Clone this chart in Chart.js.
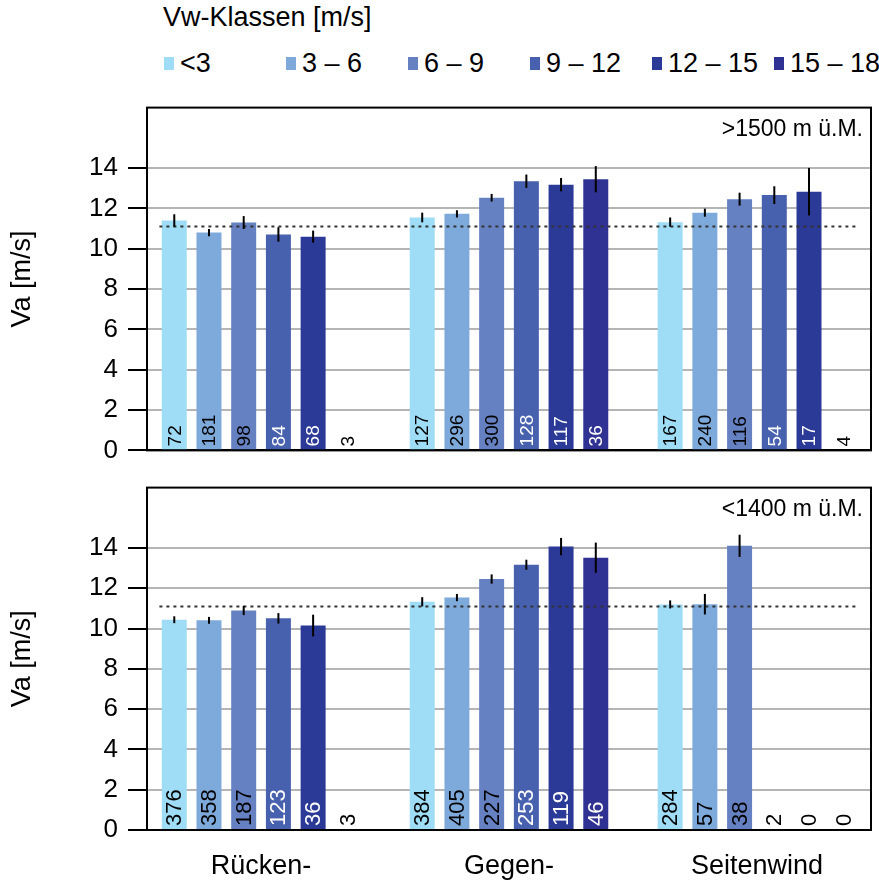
<!DOCTYPE html>
<html>
<head>
<meta charset="utf-8">
<script src="https://cdn.jsdelivr.net/npm/chart.js@4.4.1/dist/chart.umd.min.js"></script>
<style>
  html, body { margin: 0; padding: 0; background: #fff; }
  body { width: 879px; height: 883px; position: relative; overflow: hidden; font-family: "Liberation Sans", Arial, sans-serif; color: #000; }
  #legend { position: absolute; left: 0; top: 0; width: 879px; height: 80px; }
  #legend .title { position: absolute; left: 163px; top: 2px; font-size: 27px; }
  #legend .row { position: absolute; left: 164px; top: 48px; display: flex; }
  #legend .item { width: 122px; display: flex; align-items: center; font-size: 27px; white-space: nowrap; }
  #legend .box { width: 10px; height: 13px; margin-right: 6px; }
  #topWrap { position: absolute; left: 0; top: 82px; }
  #bottomWrap { position: absolute; left: 0; top: 462px; }
</style>
</head>
<body>
<div id="legend">
  <div class="title">Vw-Klassen [m/s]</div>
  <div class="row" id="legendRow"></div>
</div>
<div id="topWrap"><canvas id="topChart" width="879" height="394"></canvas></div>
<div id="bottomWrap"><canvas id="bottomChart" width="879" height="421"></canvas></div>

<script>
// wind direction groups and wind speed classes
const categories = ['Rücken-', 'Gegen-', 'Seitenwind'];
const speedClasses = ['<3', '3 – 6', '6 – 9', '9 – 12', '12 – 15', '15 – 18'];
const classColors = ['#9fdcf6', '#7eaadb', '#6581c2', '#4761ae', '#2b3a97', '#2f3292'];
const lightLabel = [true, true, true, false, false, false];

const yTicks = [0, 2, 4, 6, 8, 10, 12, 14];
const refSpeed = 11.1;

// >1500 m: mean Va per class (rows) and direction (columns)
const highMeans = [
    [11.40, 11.55, 11.32],
    [10.80, 11.73, 11.79],
    [11.30, 12.53, 12.46],
    [10.71, 13.35, 12.66],
    [10.60, 13.18, 12.83],
    [null, 13.45, null]
];
const highErrors = [
    [0.31, 0.24, 0.23],
    [0.18, 0.18, 0.20],
    [0.32, 0.19, 0.32],
    [0.36, 0.33, 0.44],
    [0.30, 0.33, 1.18],
    [null, 0.65, null]
];
const highCounts = [
    [72, 127, 167],
    [181, 296, 240],
    [98, 300, 116],
    [84, 128, 54],
    [68, 117, 17],
    [3, 36, 4]
];

// <1400 m
const lowMeans = [
    [10.44, 11.33, 11.20],
    [10.41, 11.54, 11.21],
    [10.90, 12.46, 14.11],
    [10.51, 13.17, null],
    [10.15, 14.07, null],
    [null, 13.52, null]
];
const lowErrors = [
    [0.17, 0.23, 0.20],
    [0.17, 0.18, 0.51],
    [0.23, 0.23, 0.55],
    [0.26, 0.25, null],
    [0.54, 0.43, null],
    [null, 0.75, null]
];
const lowCounts = [
    [376, 384, 284],
    [358, 405, 57],
    [187, 227, 38],
    [123, 253, 2],
    [36, 119, 0],
    [3, 46, 0]
];

const FONT = '"Liberation Sans", Arial, sans-serif';

// legend row
const legendRow = document.getElementById('legendRow');
speedClasses.forEach((name, i) => {
    const item = document.createElement('div');
    item.className = 'item';
    item.innerHTML = `<span class="box" style="background:${classColors[i]}"></span><span>${name}</span>`;
    legendRow.appendChild(item);
});

// frame, error bars, sample sizes and altitude label
const panelPlugin = {
    id: 'panelExtras',
    afterDatasetsDraw(chart) {
        const ctx = chart.ctx;
        const area = chart.chartArea;
        const yScale = chart.scales.y;
        const cfg = chart.options.plugins.panelExtras;

        ctx.save();
        // error bars
        ctx.strokeStyle = '#000';
        ctx.lineWidth = 2;
        cfg.errors.forEach((errs, ds) => {
            const meta = chart.getDatasetMeta(ds);
            errs.forEach((e, i) => {
                const v = cfg.means[ds][i];
                if (v === null || e === null) return;
                const bar = meta.data[i];
                ctx.beginPath();
                ctx.moveTo(bar.x, yScale.getPixelForValue(v + e));
                ctx.lineTo(bar.x, yScale.getPixelForValue(v - e));
                ctx.stroke();
            });
        });

        // sample sizes, rotated at the foot of each bar
        ctx.font = `${cfg.countSize}px ${FONT}`;
        ctx.textAlign = 'left';
        ctx.textBaseline = 'middle';
        cfg.counts.forEach((row, ds) => {
            const meta = chart.getDatasetMeta(ds);
            row.forEach((n, i) => {
                const bar = meta.data[i];
                const hasBar = cfg.means[ds][i] !== null;
                ctx.save();
                ctx.translate(bar.x, area.bottom - 4);
                ctx.rotate(-Math.PI / 2);
                ctx.fillStyle = (hasBar && !lightLabel[ds]) ? '#fff' : '#000';
                ctx.fillText(String(n), 0, 1);
                ctx.restore();
            });
        });

        // altitude label
        ctx.font = `23px ${FONT}`;
        ctx.fillStyle = '#000';
        ctx.textAlign = 'right';
        ctx.textBaseline = 'middle';
        ctx.fillText(cfg.label, area.right - 8, area.top + 22);

        // box around the plot area
        ctx.strokeStyle = '#000';
        ctx.lineWidth = 2;
        ctx.strokeRect(area.left, area.top, area.right - area.left, area.bottom - area.top);
        ctx.restore();
    }
};

function makePanel(canvasId, means, errors, counts, label, opts) {
    const datasets = speedClasses.map((name, ds) => ({
        type: 'bar',
        label: name,
        data: means[ds].map((v, i) => ({ x: i, y: v })),
        backgroundColor: classColors[ds],
        categoryPercentage: 0.84,
        barPercentage: 0.72,
        order: 1
    }));
    // overall mean as a dotted reference line
    datasets.push({
        type: 'line',
        label: 'Mittel',
        data: [{ x: -0.41, y: refSpeed }, { x: 2.41, y: refSpeed }],
        borderColor: '#333',
        borderWidth: 2,
        borderDash: [3, 4],
        pointRadius: 0,
        order: 0
    });

    return new Chart(document.getElementById(canvasId), {
        type: 'bar',
        data: { datasets: datasets },
        options: {
            responsive: false,
            animation: false,
            layout: { padding: { top: opts.padTop, right: 8, left: 0, bottom: 0 } },
            plugins: {
                legend: { display: false },
                tooltip: { enabled: false },
                panelExtras: { means: means, errors: errors, counts: counts, label: label, countSize: opts.countSize }
            },
            scales: {
                x: {
                    type: 'linear',
                    min: -0.46,
                    max: 2.46,
                    offset: false,
                    grid: { display: false, offset: false },
                    border: { display: true, color: '#000', width: 2 },
                    afterBuildTicks: scale => { scale.ticks = categories.map((c, i) => ({ value: i })); },
                    afterFit: scale => { scale.height = opts.xHeight; },
                    ticks: {
                        display: opts.showCategories,
                        autoSkip: false,
                        maxRotation: 0,
                        padding: 12,
                        color: '#000',
                        font: { family: FONT, size: 27 },
                        callback: v => categories[v]
                    }
                },
                y: {
                    min: 0,
                    max: 17,
                    afterBuildTicks: scale => { scale.ticks = yTicks.map(v => ({ value: v })); },
                    afterFit: scale => { scale.width = 147; },
                    grid: { color: '#b5b5b5', lineWidth: 2, tickColor: '#000', tickWidth: 2, tickLength: 19 },
                    border: { display: true, color: '#000', width: 2 },
                    ticks: { padding: 10, color: '#000', font: { family: FONT, size: 26 } },
                    title: {
                        display: true,
                        text: 'Va [m/s]',
                        color: '#000',
                        font: { family: FONT, size: 27 },
                        padding: { top: 6, bottom: 0 }
                    }
                }
            }
        },
        plugins: [panelPlugin]
    });
}

makePanel('topChart', highMeans, highErrors, highCounts, '>1500 m ü.M.',
    { padTop: 24, xHeight: 19, showCategories: false, countSize: 19 });
makePanel('bottomChart', lowMeans, lowErrors, lowCounts, '<1400 m ü.M.',
    { padTop: 24, xHeight: 53, showCategories: true, countSize: 22 });
</script>
</body>
</html>
